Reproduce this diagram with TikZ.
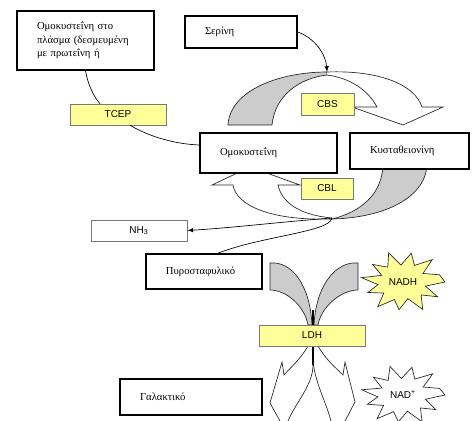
\documentclass[tikz,border=0pt]{standalone}
\usepackage{fontspec}
\setmainfont{Liberation Serif}
\setsansfont{Liberation Sans}
\usepackage{xcolor}
\definecolor{enzymeyellow}{RGB}{255,255,153}
\definecolor{bandgray}{RGB}{204,204,204}
\definecolor{edgegray}{RGB}{120,120,120}
\usetikzlibrary{calc}

\tikzset{
  box/.style={draw, line width=1.2pt, fill=white, align=left, inner xsep=15pt, inner ysep=0pt,
    font=\fontsize{8}{10}\selectfont},
  enzyme/.style={draw=edgegray, fill=enzymeyellow, inner sep=0pt, minimum height=15.75pt,
    font=\sffamily\fontsize{7.5}{9}\selectfont},
  band/.style={draw=black!85, line width=0.5pt, fill=bandgray},
  ribbon/.style={draw=black!85, line width=0.5pt, fill=white},
  outline/.style={draw=black!85, line width=0.5pt},
  burst/.style={draw=black!85, line width=0.5pt},
  lab/.style={inner sep=0pt, font=\sffamily\fontsize{7.5}{9}\selectfont},
}

\begin{document}
\begin{tikzpicture}[x=0.75pt, y=-0.75pt, >=latex]
  \useasboundingbox (0,0) rectangle (476,421);

  % CBS ribbon
  \draw [band] (228,125) .. controls (230,90) and (280,72) .. (327,72) -- (327,75)
    .. controls (300,78) and (275,95) .. (272,125) -- cycle;
  \draw [ribbon] (327,72) .. controls (380,70) and (415,85) .. (422,107) -- (443,107) -- (403,125)
    -- (352,107) -- (377,107) .. controls (368,90) and (350,78) .. (327,75);
  \coordinate (cbstop) at (327,72);

  % CBL ribbon
  \draw [band] (427,165) .. controls (425,200) and (380,218) .. (332,219)
    .. controls (360,212) and (382,195) .. (383,165) -- cycle;
  \draw [ribbon] (332,219) .. controls (270,221) and (236,205) .. (233,185) -- (212,185) -- (250,167)
    -- (300,185) -- (278,185) .. controls (282,203) and (300,215) .. (332,218);
  \coordinate (xing) at (332,218);

  % LDH petals and arrows
  \draw [band] (270,263) .. controls (292,261) and (310,285) .. (312,325) -- (308,325)
    .. controls (305,307) and (287,290) .. (270,290) -- cycle;
  \draw [band] (358,263) .. controls (336,261) and (316,285) .. (314,325) -- (318,325)
    .. controls (321,307) and (341,290) .. (358,290) -- cycle;
  \draw [line width=0.8pt] (313,310) -- (313,365);
  \draw [outline] (308,346) .. controls (300,360) and (290,368) .. (284,375) -- (282,362) -- (270,403) -- (280,421);
  \draw [outline] (313,365) .. controls (313,385) and (296,402) .. (288,421);
  \draw [outline] (318,346) .. controls (326,360) and (336,368) .. (343,375) -- (345,362) -- (355,402) -- (345,421);
  \draw [outline] (313,362) .. controls (316,385) and (326,402) .. (331,421);

  % bursts
  \draw [burst, fill=enzymeyellow, shift={(403,282)}] (0:42 and 31)
    \foreach \a/\r in {14/0.55, 30/0.95, 44/0.6, 62/1.0, 78/0.55, 96/0.9, 110/0.6, 127/1.0, 142/0.58,
      158/0.9, 172/0.6, 188/1.0, 203/0.55, 218/0.92, 233/0.6, 250/1.0, 265/0.55, 282/0.95, 297/0.6,
      314/1.0, 330/0.55, 345/0.9} { -- ({42*\r*cos(\a)},{31*\r*sin(\a)}) } -- cycle;
  \draw [burst, fill=white, shift={(403,395)}] (0:42 and 30)
    \foreach \a/\r in {15/0.55, 32/0.92, 46/0.6, 63/1.0, 79/0.55, 97/0.9, 112/0.6, 128/1.0, 143/0.58,
      160/0.9, 174/0.6, 190/1.0, 205/0.55, 220/0.92, 234/0.6, 252/1.0, 266/0.55, 283/0.95, 298/0.6,
      315/1.0, 331/0.55, 346/0.9} { -- ({42*\r*cos(\a)},{30*\r*sin(\a)}) } -- cycle;
  \node [lab] (nadh) at (403,282) {NADH};
  \node [lab] (nad) at (403,394) {NAD\textsuperscript{+}};

  % substrate boxes
  \node [box, text width=72.75pt, minimum height=44.25pt] (plasma) at (85.5,40.5)
    {Ομοκυστεΐνη στο\\πλάσμα (δεσμευμένη\\με πρωτεΐνη ή};
  \node [box, text width=54pt, minimum height=24pt] (serine) at (241,32) {Σερίνη};
  \node [box, text width=72.75pt, minimum height=30pt] (hcy) at (268.5,153) {Ομοκυστεΐνη};
  \node [box, text width=59.25pt, minimum height=27pt] (cysta) at (409.5,151) {Κυσταθειονίνη};
  \node [box, text width=57pt, minimum height=26.25pt] (pyr) at (204,271.5) {Πυροσταφυλικό};
  \node [box, text width=76.5pt, minimum height=27pt] (lac) at (191,397) {Γαλακτικό};
  \node [draw=edgegray, line width=0.6pt, fill=white, minimum width=72pt, minimum height=15.75pt,
    inner sep=0pt, font=\sffamily\fontsize{7.5}{9}\selectfont] (nh3) at (139,230.5) {NH\textsubscript{3}};

  % enzymes
  \node [enzyme, minimum width=72pt] (tcep) at (118,114.5) {TCEP};
  \node [enzyme, minimum width=39.75pt, minimum height=16.5pt] (cbs) at (327.5,104) {CBS};
  \node [enzyme, minimum width=39pt] (cbl) at (327,188.5) {CBL};
  \node [enzyme, minimum width=79.5pt] (ldh) at (312,335.5) {LDH};

  % connectors
  \draw [->, line width=0.5pt] (serine.east) .. controls (315,38) and (326,55) .. (cbstop);
  \draw [line width=0.5pt] (plasma.south) .. controls (88,85) and (94,97) .. ($(tcep.north)+(-18,0)$);
  \draw [line width=0.5pt] ($(tcep.south)+(12,0)$) .. controls (150,137) and (175,144) .. ($(hcy.west)+(0,-8)$);
  \draw [->, line width=0.5pt] (xing) .. controls (280,222) and (230,228) .. (nh3.east);
  \draw [line width=0.5pt] (xing) .. controls (330,232) and (262,236) .. ($(pyr.north)+(14,0)$);

\end{tikzpicture}
\end{document}
